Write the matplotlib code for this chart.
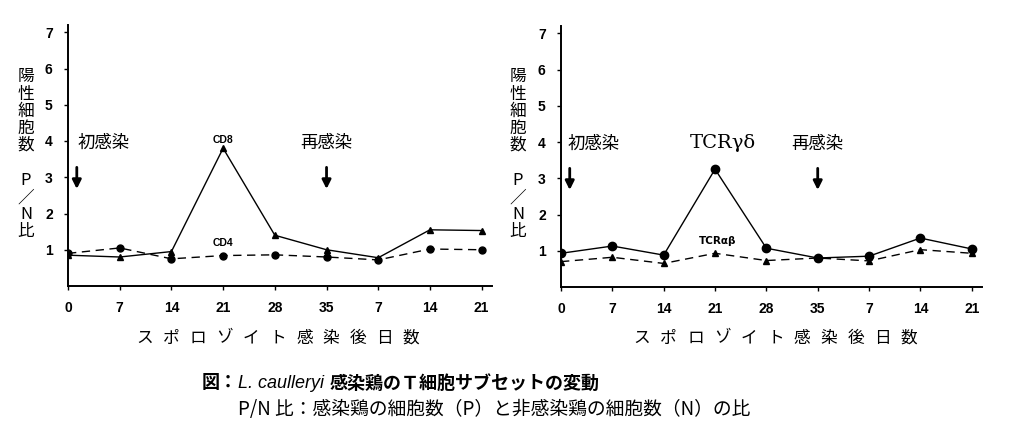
import numpy as np
import matplotlib
matplotlib.use("Agg")
import matplotlib.pyplot as plt

plt.rcParams['font.family'] = ['Noto Sans CJK JP', 'DejaVu Sans']

# x categories (days after sporozoite infection; second run after re-infection)
day_labels = ["0", "7", "14", "21", "28", "35", "7", "14", "21"]

# left panel
cd8 = [0.85, 0.80, 0.95, 3.80, 1.40, 1.00, 0.78, 1.55, 1.53]
cd4 = [0.90, 1.05, 0.75, 0.84, 0.86, 0.80, 0.72, 1.02, 1.00]

# right panel
tcr_gd = [0.93, 1.13, 0.88, 3.25, 1.07, 0.80, 0.85, 1.35, 1.05]
tcr_ab = [0.70, 0.82, 0.65, 0.93, 0.73, 0.80, 0.72, 1.03, 0.93]

yticks = [1, 2, 3, 4, 5, 6, 7]
xlabel = "スポロゾイト感染後日数"

W, H = 1009, 442
fig = plt.figure(figsize=(W / 100, H / 100), dpi=100)


def px_axes(x0, x1, ytop, ybot):
    return fig.add_axes([x0 / W, 1 - ybot / H, (x1 - x0) / W, (ybot - ytop) / H])


def style(ax):
    x = np.arange(len(day_labels))
    ax.set_xlim(0, 8.2)
    ax.set_ylim(0, 7.2)
    ax.set_xticks(x)
    ax.set_xticklabels(day_labels, fontfamily='Liberation Sans', fontweight='bold', fontsize=10)
    ax.set_yticks(yticks)
    ax.set_yticklabels([str(v) for v in yticks], fontfamily='Liberation Sans', fontweight='bold', fontsize=10)
    for s in ['top', 'right']:
        ax.spines[s].set_visible(False)
    for s in ['left', 'bottom']:
        ax.spines[s].set_linewidth(1.4)
    ax.tick_params(length=3, width=1, pad=8)
    ax.set_facecolor('none')
    return x


def vlabel(xpx):
    fig.text(xpx / W, 1 - 111 / H, "陽\n性\n細\n胞\n数", ha='center', va='center',
             fontsize=12, linespacing=1.0)
    fig.text(xpx / W, 1 - 206 / H, "P\n／\nN\n比", ha='center', va='center',
             fontsize=12, linespacing=0.98)


def xlab(first_px, step_px):
    for i, ch in enumerate(xlabel):
        fig.text((first_px + i * step_px) / W, 1 - 338 / H, ch, ha='center', va='center', fontsize=12)


def arrow(ax, xd):
    ax.annotate("", xy=(xd, 2.6), xytext=(xd, 3.35),
                arrowprops=dict(arrowstyle='-|>', color='black', lw=2, mutation_scale=13))


# left panel
ax1 = px_axes(68, 492, 25, 286)
x = style(ax1)
ax1.plot(x, cd8, '-', color='black', lw=1, marker='^', ms=5)
ax1.plot(x, cd4, '--', color='black', lw=1, marker='o', ms=5, dashes=(6, 4))
ax1.text(0.18, 3.7, "初感染", fontsize=12.5, ha='left', va='bottom')
ax1.text(5.0, 3.7, "再感染", fontsize=12.5, ha='center', va='bottom')
arrow(ax1, 0.17)
arrow(ax1, 5.0)
ax1.text(3, 3.9, "CD8", fontsize=7.5, fontweight='bold', ha='center', va='bottom', fontfamily='Liberation Sans')
ax1.text(3, 1.05, "CD4", fontsize=7.5, fontweight='bold', ha='center', va='bottom', fontfamily='Liberation Sans')
vlabel(26)
xlab(145, 26.6)

# right panel
ax2 = px_axes(561, 982, 26, 287)
x = style(ax2)
ax2.plot(x, tcr_gd, '-', color='black', lw=1, marker='o', ms=6)
ax2.plot(x, tcr_ab, '--', color='black', lw=1, marker='^', ms=5, dashes=(6, 4))
ax2.text(0.12, 3.7, "初感染", fontsize=12.5, ha='left', va='bottom')
ax2.text(5.0, 3.7, "再感染", fontsize=12.5, ha='center', va='bottom')
arrow(ax2, 0.17)
arrow(ax2, 5.0)
ax2.text(3.15, 3.72, "TCRγδ", fontsize=14, ha='center', va='bottom', fontfamily='DejaVu Serif')
ax2.text(3.05, 1.12, "TCRαβ", fontsize=7.5, fontweight='bold', ha='center', va='bottom', fontfamily='DejaVu Sans')
vlabel(518)
xlab(642, 26.7)

# caption
fig.text(202 / W, 1 - 383 / H, "図：", ha='left', va='center', fontsize=13, fontweight='bold')
fig.text(238 / W, 1 - 383 / H, "L. caulleryi", ha='left', va='center', fontsize=13,
         fontstyle='italic', fontfamily='Liberation Sans')
fig.text(330 / W, 1 - 383 / H, "感染鶏のＴ細胞サブセットの変動", ha='left', va='center',
         fontsize=13, fontweight='bold')
fig.text(238 / W, 1 - 410 / H, "P/N 比：感染鶏の細胞数（P）と非感染鶏の細胞数（N）の比",
         ha='left', va='center', fontsize=13.5)

fig.savefig("out.png", dpi=100)
